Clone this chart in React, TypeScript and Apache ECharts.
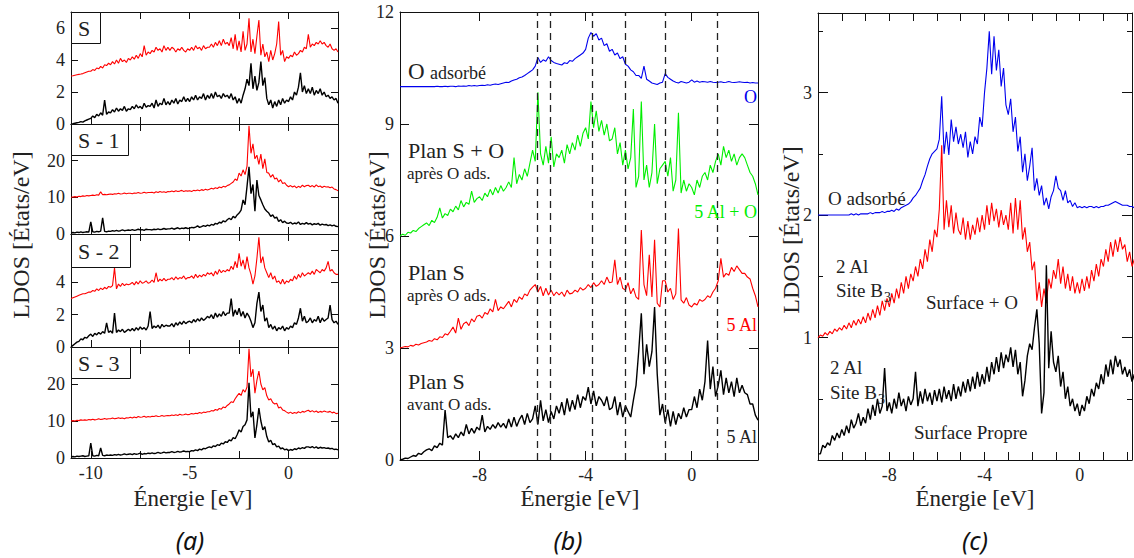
import React, { useEffect, useRef } from "react";
import * as echarts from "echarts";

// energy grid: -11 eV, step 0.1 eV
const E_MIN = -11;
const E_STEP = 0.1;

// ---------- panel (a) ----------
const aS_red = [
  3.0, 3.02, 3.05, 3.08, 3.1, 3.12, 3.15, 3.2, 3.25, 3.3,
  3.3, 3.4, 3.35, 3.5, 3.45, 3.6, 3.5, 3.7, 3.65, 3.8,
  3.7, 3.9, 3.75, 4.0, 3.8, 4.1, 3.9, 4.0, 3.85, 4.1,
  4.0, 4.2, 4.05, 4.3, 4.1, 4.4, 4.2, 4.9, 4.3, 4.5,
  4.4, 4.6, 4.5, 4.8, 4.6, 4.7, 4.5, 4.9, 4.6, 4.8,
  4.6, 4.8, 4.7, 4.5, 4.7, 4.6, 4.8, 4.6, 4.5, 4.7,
  4.6, 4.8, 4.6, 4.9, 4.7, 4.8, 4.6, 4.9, 4.7, 4.8,
  4.8, 5.0, 4.8, 5.1, 4.9, 5.2, 4.9, 5.3, 5.0, 5.1,
  4.9, 5.4, 4.7, 5.6, 4.6, 5.2, 4.5, 5.8, 4.6, 5.0,
  6.6, 4.5, 5.3, 4.4, 5.5, 6.5, 4.3, 5.0, 4.2, 4.5,
  3.9, 4.6, 4.0, 4.4, 5.0, 6.4, 4.3, 4.6, 3.9, 4.2,
  4.1, 4.3, 4.2, 4.5, 4.3, 4.4, 4.6, 4.5, 4.8, 4.7,
  5.6, 4.8, 5.0, 4.9, 5.1, 5.0, 5.2, 5.0, 5.1, 4.9,
  4.8, 5.0, 4.7, 4.6, 4.7, 4.5,
];
const aS_black = [
  0.0, 0.02, 0.05, 0.08, 0.1, 0.15, 0.12, 0.2, 0.25, 0.3,
  0.35, 0.5, 0.4, 0.6, 0.5, 0.7, 0.55, 1.5, 0.6, 0.75,
  0.7, 0.9, 0.75, 1.0, 0.8, 0.95, 0.85, 1.1, 0.8, 0.95,
  0.9, 1.1, 0.95, 1.2, 1.0, 1.1, 0.95, 1.3, 1.05, 1.15,
  1.1, 1.3, 1.0, 1.5, 1.1, 1.3, 1.2, 1.6, 1.2, 1.4,
  1.2, 1.5, 1.3, 1.6, 1.25, 1.5, 1.4, 1.7, 1.4, 1.6,
  1.4, 1.7, 1.5, 1.8, 1.5, 1.7, 1.6, 1.9, 1.5, 1.8,
  1.6, 1.9, 1.6, 2.0, 1.7, 1.8, 1.6, 1.9, 1.7, 1.8,
  1.6, 1.9, 1.5, 1.7, 1.3, 1.6, 1.3, 1.8, 2.2, 2.8,
  2.4, 3.8, 2.2, 3.0, 2.1, 2.6, 3.9, 2.4, 2.9, 1.6,
  1.2, 1.5, 1.0, 1.4, 1.1, 1.5, 1.2, 1.6, 1.3, 1.5,
  1.4, 1.7, 1.5, 2.0, 1.8, 2.3, 3.2, 2.0, 2.4, 1.9,
  2.2, 1.9, 2.3, 1.8, 2.1, 1.9, 2.2, 1.8, 2.0, 1.7,
  1.8, 1.6, 1.7, 1.5, 1.6, 1.3,
];
const aS1_red = [
  10.0, 10.1, 10.2, 10.1, 10.3, 10.2, 10.4, 10.3, 10.5, 10.4,
  10.5, 10.6, 10.5, 10.7, 10.6, 11.5, 10.7, 10.8, 10.7, 10.8,
  10.9, 10.8, 11.0, 10.9, 11.1, 10.9, 11.0, 11.2, 11.0, 11.1,
  11.1, 11.0, 11.2, 11.1, 11.3, 11.1, 11.2, 11.4, 11.2, 11.3,
  11.3, 11.4, 11.2, 11.5, 11.3, 11.6, 11.4, 11.5, 11.3, 11.6,
  11.5, 11.7, 11.5, 11.8, 11.6, 11.7, 11.9, 11.6, 11.8, 11.7,
  11.8, 11.6, 11.9, 11.8, 12.0, 11.8, 12.1, 11.9, 12.2, 12.0,
  12.2, 12.5, 12.3, 12.6, 12.4, 12.8, 12.6, 13.0, 12.8, 13.2,
  13.4, 13.8, 14.2, 15.0, 14.6, 16.6, 15.8, 17.5, 16.2, 18.5,
  29.5, 22.0, 24.6, 20.5, 21.5, 19.0, 21.8, 17.8, 20.5, 16.8,
  16.6, 15.5, 16.2, 15.0, 15.3, 14.2, 14.8, 13.8, 14.0, 13.3,
  12.9, 13.2, 12.8, 13.1, 12.6, 13.0, 12.7, 13.3, 12.9, 13.2,
  13.3, 12.9, 13.2, 12.8, 13.4, 12.9, 13.1, 12.7, 13.0, 12.8,
  12.9, 12.6, 12.8, 12.3, 12.1, 11.8,
];
const aS1_black = [
  0.3, 0.4, 0.3, 0.5, 0.4, 0.6, 0.4, 0.5, 0.6, 0.5,
  3.3, 0.6, 0.5, 0.7, 0.6, 0.8, 4.4, 0.7, 0.6, 0.8,
  0.7, 0.9, 0.8, 1.0, 0.8, 0.9, 1.1, 0.9, 1.0, 1.1,
  1.0, 1.2, 1.0, 1.1, 1.3, 1.1, 1.2, 1.0, 1.3, 1.2,
  1.2, 1.1, 1.3, 1.2, 1.4, 1.2, 1.3, 1.5, 1.3, 1.4,
  1.4, 1.6, 1.3, 1.5, 1.7, 1.4, 1.6, 1.5, 1.7, 1.5,
  1.6, 1.8, 1.7, 1.9, 2.2, 1.8, 2.0, 2.3, 2.1, 2.4,
  2.2, 2.6, 2.4, 2.9, 2.7, 3.2, 3.0, 3.6, 3.3, 3.9,
  4.3, 3.9, 4.8, 4.4, 5.2, 5.7, 6.5, 9.3, 8.0, 13.0,
  18.3, 11.0, 13.5, 6.2, 14.7, 10.5, 9.3, 8.0, 6.8, 6.2,
  5.7, 4.8, 5.2, 4.3, 4.6, 3.4, 3.9, 3.1, 3.5, 3.0,
  2.9, 3.2, 2.7, 3.0, 2.8, 3.3, 2.6, 2.9, 2.7, 3.1,
  2.7, 2.9, 2.5, 2.8, 2.6, 2.9, 2.4, 2.7, 2.5, 2.6,
  2.3, 2.5, 2.2, 2.4, 2.1, 2.0,
];
const aS2_red = [
  3.0, 3.05, 3.1, 3.15, 3.2, 3.25, 3.3, 3.3, 3.35, 3.4,
  3.4, 3.5, 3.45, 3.6, 3.5, 3.65, 3.55, 3.7, 3.6, 3.75,
  3.7, 3.8, 4.9, 3.6, 3.9, 3.75, 3.95, 3.8, 3.9, 3.85,
  3.9, 4.0, 3.85, 4.05, 3.9, 4.1, 3.95, 4.0, 4.1, 3.95,
  4.0, 4.15, 4.0, 4.6, 4.05, 4.2, 4.1, 4.25, 4.1, 4.2,
  4.2, 4.3, 4.15, 4.35, 4.2, 4.3, 4.25, 4.4, 4.2, 4.3,
  4.3, 4.4, 4.25, 4.5, 4.3, 4.45, 4.35, 4.5, 4.4, 4.6,
  4.5, 4.6, 4.4, 4.7, 4.5, 4.8, 4.6, 4.75, 4.65, 4.8,
  4.7, 5.0, 4.8, 5.3, 4.9, 5.8, 5.0, 5.4, 4.8, 5.6,
  4.9, 4.5, 3.9, 4.4, 5.5, 6.8, 5.2, 5.6, 4.9, 4.6,
  4.3, 4.6, 4.2, 4.4, 4.0, 4.1, 3.9, 4.2, 3.9, 4.1,
  4.0, 4.2, 4.1, 4.4, 4.2, 4.5, 4.3, 4.6, 4.4, 4.5,
  4.6, 4.5, 4.7, 4.5, 4.8, 4.7, 4.6, 4.8, 4.7, 4.9,
  5.3, 4.7, 4.8, 4.6, 4.5, 4.5,
];
const aS2_black = [
  0.0, 0.1, 0.2, 0.3, 0.35, 0.5, 0.45, 0.6, 0.55, 0.7,
  0.8, 0.65, 0.85, 0.75, 0.9, 0.8, 0.95, 0.85, 1.5, 0.9,
  1.0, 0.85, 2.1, 0.9, 1.05, 0.95, 1.1, 0.9, 1.0, 1.1,
  1.0, 1.15, 1.0, 1.2, 1.05, 1.25, 1.1, 1.2, 1.05, 1.3,
  2.2, 1.15, 1.3, 1.2, 1.35, 1.15, 1.4, 1.25, 1.35, 1.3,
  1.3, 1.45, 1.25, 1.5, 1.35, 1.55, 1.4, 1.6, 1.45, 1.55,
  1.6, 1.5, 1.7, 1.55, 1.75, 1.6, 1.8, 1.65, 1.75, 1.9,
  1.8, 2.0, 1.75, 2.1, 1.85, 2.05, 1.9, 2.2, 1.95, 2.1,
  2.1, 3.0, 1.9, 2.3, 2.0, 2.4, 1.9, 2.2, 1.8, 2.1,
  1.9, 1.6, 1.2, 1.5, 2.7, 3.4, 2.2, 2.6, 1.6, 1.8,
  1.2, 1.4, 1.1, 1.3, 1.0, 1.2, 1.1, 1.3, 1.0, 1.2,
  1.1, 1.3, 1.2, 1.5, 1.4, 1.8, 2.4, 1.6, 1.9, 1.5,
  1.6, 1.8, 1.5, 1.7, 1.6, 1.9, 1.5, 1.8, 1.6, 1.7,
  1.8, 2.6, 1.7, 1.5, 1.6, 1.4,
];
const aS3_red = [
  10.0, 10.1, 10.0, 10.2, 10.1, 10.3, 10.2, 10.3, 10.2, 10.4,
  10.3, 10.5, 10.3, 10.4, 10.6, 10.4, 10.5, 10.7, 10.5, 10.6,
  10.6, 10.8, 10.6, 10.7, 10.9, 10.7, 10.8, 10.6, 10.9, 10.8,
  11.0, 10.8, 11.1, 10.9, 11.2, 11.0, 11.1, 11.3, 11.0, 11.2,
  11.1, 11.3, 11.2, 11.4, 11.2, 11.3, 11.5, 11.3, 11.4, 11.5,
  11.4, 11.6, 11.5, 11.7, 11.5, 11.8, 11.6, 11.7, 11.9, 11.7,
  11.8, 12.0, 11.9, 12.1, 12.0, 12.3, 12.1, 12.4, 12.3, 12.5,
  12.5, 12.8, 12.7, 13.1, 12.9, 13.4, 13.2, 13.8, 13.6, 14.2,
  14.6, 15.2, 15.0, 16.0, 16.8, 17.5, 16.9, 18.5, 17.8, 19.2,
  29.5, 21.9, 24.0, 17.5, 21.0, 23.5, 20.0, 18.4, 19.0, 16.8,
  15.7, 16.0, 15.0, 14.6, 14.8, 13.5, 13.8, 13.0, 12.8, 12.4,
  12.1, 12.4, 12.0, 12.3, 12.1, 12.5, 12.2, 12.6, 12.4, 12.7,
  12.9, 12.5, 12.8, 12.4, 12.7, 12.3, 12.6, 12.4, 12.7, 12.5,
  12.4, 12.6, 12.2, 12.4, 12.0, 12.1,
];
const aS3_black = [
  0.3, 0.4, 0.3, 0.5, 0.4, 0.5, 0.6, 0.4, 0.5, 0.6,
  4.0, 0.6, 0.5, 0.7, 0.6, 2.7, 0.7, 0.6, 0.8, 0.7,
  0.8, 0.7, 0.9, 0.8, 1.0, 0.8, 0.9, 1.1, 0.9, 1.0,
  1.1, 0.9, 1.2, 1.0, 1.1, 1.3, 1.0, 1.2, 1.1, 1.3,
  1.2, 1.4, 1.2, 1.3, 1.5, 1.3, 1.4, 1.6, 1.4, 1.5,
  1.5, 1.7, 1.5, 1.6, 1.8, 1.6, 1.7, 1.9, 1.7, 1.8,
  1.7, 2.0, 1.9, 2.2, 2.0, 2.4, 2.2, 2.6, 2.5, 2.8,
  3.0, 2.8, 3.3, 3.1, 3.6, 3.4, 4.0, 3.8, 4.4, 4.2,
  4.9, 4.6, 5.5, 5.2, 6.3, 7.6, 7.0, 8.5, 9.0, 10.3,
  20.3, 11.0, 12.5, 5.4, 9.0, 13.5, 10.0, 7.6, 8.5, 5.8,
  4.3, 4.8, 3.6, 3.9, 3.0, 3.2, 2.5, 2.7, 2.2, 2.4,
  2.0, 2.3, 2.1, 2.5, 2.3, 2.7, 2.5, 2.8, 2.6, 3.0,
  3.0, 2.8, 3.1, 2.7, 3.0, 2.6, 2.9, 2.7, 2.8, 2.6,
  2.7, 2.5, 2.6, 2.3, 2.4, 2.2,
];

// ---------- panel (b) ----------
const bO_blue = [
  10.0, 10.0, 10.0, 10.0, 10.0, 10.0, 10.0, 10.0, 10.0, 10.0,
  10.0, 10.0, 10.0, 10.0, 10.01, 10.0, 10.0, 10.01, 10.0, 10.01,
  10.01, 10.0, 10.02, 10.01, 10.02, 10.01, 10.03, 10.02, 10.03, 10.02,
  10.03, 10.04, 10.03, 10.05, 10.04, 10.06, 10.07, 10.06, 10.08, 10.1,
  10.12, 10.11, 10.15, 10.18, 10.2, 10.24, 10.26, 10.3, 10.35, 10.4,
  10.45, 10.55, 10.78, 10.65, 10.72, 10.68, 10.8, 10.7, 10.65, 10.62,
  10.6, 10.58, 10.64, 10.62, 10.7, 10.68, 10.75, 10.8, 10.85, 10.9,
  11.0, 11.3, 11.45, 11.35, 11.42, 11.25, 11.3, 11.1, 11.15, 10.95,
  11.0, 10.85, 10.9, 10.75, 10.8, 10.6, 10.55, 10.45, 10.4, 10.3,
  10.3, 10.22, 10.55, 10.2, 10.15, 10.1, 10.08, 10.06, 10.1, 10.12,
  10.35, 10.25, 10.2, 10.15, 10.12, 10.1, 10.14, 10.12, 10.1, 10.12,
  10.18, 10.12, 10.15, 10.12, 10.14, 10.13, 10.12, 10.14, 10.12, 10.11,
  10.12, 10.13, 10.11, 10.12, 10.14, 10.12, 10.11, 10.12, 10.13, 10.12,
  10.11, 10.12, 10.1, 10.11, 10.1, 10.1,
];
const bSO_green = [
  6.0, 6.05, 6.02, 6.1, 6.08, 6.15, 6.12, 6.2, 6.25, 6.3,
  6.35, 6.28, 6.42, 6.36, 6.5, 6.75, 6.48, 6.6, 6.55, 6.72,
  6.65, 6.8, 6.7, 6.95, 6.78, 6.9, 6.85, 7.2, 6.9, 7.0,
  7.05, 6.95, 7.15, 7.05, 7.25, 7.1, 7.3, 7.15, 7.35, 7.2,
  7.3, 7.45, 7.3, 8.1, 7.4, 7.65, 7.5, 7.8, 7.6, 7.95,
  8.3, 8.0, 9.85, 8.2, 7.9, 8.4, 7.95, 8.66, 7.85, 8.2,
  8.1, 8.3, 7.95, 8.45, 8.2, 8.5, 8.3, 8.7, 8.4, 8.75,
  8.9, 8.6, 9.6, 8.9, 9.35, 8.8, 9.1, 8.7, 9.0, 8.55,
  8.6, 8.9, 8.2, 8.5, 7.9, 8.3, 7.8, 8.1, 9.4, 7.3,
  7.6, 9.6, 7.5, 7.9, 7.3, 7.7, 9.0, 7.4, 7.8, 7.9,
  8.0, 7.6, 8.1, 7.2, 7.5, 9.3, 7.15, 7.5, 7.2, 7.4,
  7.3, 7.1, 7.5, 7.3, 7.6, 7.7, 7.5, 7.9, 7.7, 8.0,
  8.2, 7.9, 8.4, 8.1, 8.3, 8.0, 8.2, 7.9, 8.1, 8.2,
  8.1, 7.9, 7.7, 7.6, 7.4, 7.1,
];
const bS_red = [
  3.0, 3.02, 3.04, 3.03, 3.07, 3.05, 3.1, 3.08, 3.12, 3.14,
  3.16, 3.2, 3.18, 3.25, 3.22, 3.3, 3.28, 3.38, 3.35, 3.45,
  3.56, 3.4, 3.8, 3.5, 3.65, 3.7, 3.6, 3.78, 3.7, 3.85,
  3.88, 3.8, 3.95, 3.9, 4.05, 3.97, 4.3, 4.0, 4.1, 4.05,
  4.15, 4.25, 4.1, 4.3, 4.22, 4.37, 4.3, 4.45, 4.4, 4.55,
  4.63, 4.7, 4.5, 4.65, 4.4, 4.6, 4.42, 4.55, 4.4, 4.5,
  4.42, 4.5, 4.38, 4.55, 4.45, 4.47, 4.55, 4.5, 4.62, 4.55,
  4.6, 4.7, 4.62, 4.75, 4.65, 4.7, 4.8, 4.7, 4.9, 4.75,
  4.77, 5.36, 4.7, 4.9, 4.6, 4.55, 4.75, 4.45, 4.6, 4.37,
  4.3, 6.16, 4.7, 4.4, 5.5, 4.37, 5.9, 4.2, 4.1, 4.8,
  4.8, 4.5, 4.6, 4.3, 4.45, 6.2, 4.29, 4.2, 4.35, 4.15,
  4.1, 4.2, 4.15, 4.3, 4.25, 4.3, 4.4, 4.35, 4.5, 4.6,
  4.8, 5.4, 4.9, 5.0, 4.95, 5.16, 5.05, 5.2, 5.1, 5.0,
  5.0, 4.9, 4.85, 4.6, 4.4, 4.1,
];
const bS_black = [
  0.0, 0.02, 0.05, 0.04, 0.08, 0.12, 0.1, 0.18, 0.15, 0.22,
  0.27, 0.3, 0.25, 0.38, 0.33, 0.45, 0.4, 1.34, 0.6, 0.65,
  0.55, 0.7, 0.6, 0.75, 0.65, 0.95, 0.7, 0.85, 0.72, 0.88,
  0.8, 1.2, 0.75, 0.9, 0.82, 0.95, 0.85, 1.0, 0.88, 0.98,
  0.85, 1.1, 0.88, 1.15, 0.9, 1.08, 1.2, 0.95, 1.25, 1.0,
  1.1, 1.45, 0.95, 1.6, 1.05, 1.35, 1.0, 1.3, 1.1, 1.45,
  1.25, 1.55, 1.2, 1.65, 1.3, 1.6, 1.35, 1.75, 1.4, 1.7,
  1.6, 1.95, 1.5, 1.85, 1.45, 1.7, 1.6, 1.45, 1.7, 1.35,
  1.4, 1.7, 1.2, 1.55, 1.15, 1.45, 1.3, 1.15, 1.6, 2.0,
  2.9, 3.93, 2.3, 3.1, 2.5, 2.9, 4.1, 2.3, 1.2, 1.5,
  1.0, 1.35, 0.9, 1.3, 0.95, 1.25, 1.1, 1.4, 1.15, 1.35,
  1.35, 1.7, 1.4, 1.9, 1.6, 2.1, 3.2, 1.9, 2.5, 1.7,
  2.0, 2.4, 1.75, 2.2, 1.8, 2.1, 1.7, 2.2, 1.8, 2.0,
  1.8, 1.75, 1.5, 1.5, 1.2, 1.07,
];
const bDashedE = [-5.83, -5.34, -3.76, -2.52, -0.98, 0.98];

// ---------- panel (c) ----------
const cO_blue = [
  2.0, 2.0, 2.0, 2.0, 2.0, 2.0, 2.0, 2.0, 2.0, 2.0,
  2.0, 2.0, 2.0, 2.0, 2.01, 2.0, 2.01, 2.0, 2.01, 2.01,
  2.01, 2.01, 2.02, 2.01, 2.02, 2.02, 2.02, 2.03, 2.02, 2.03,
  2.03, 2.04, 2.03, 2.05, 2.04, 2.06, 2.07, 2.08, 2.09, 2.11,
  2.14, 2.16, 2.19, 2.22, 2.28, 2.33, 2.4, 2.46, 2.5, 2.52,
  2.54, 2.62, 2.97, 2.5, 2.68, 2.49, 2.78, 2.6, 2.72, 2.58,
  2.66, 2.55, 2.68, 2.47, 2.6, 2.5, 2.64, 2.58, 2.8, 2.72,
  3.0, 3.2, 3.5, 3.15, 3.46, 3.18, 3.35, 3.05, 3.2, 2.9,
  2.82, 2.95, 2.68, 2.8, 2.52, 2.64, 2.35, 2.5, 2.28, 2.4,
  2.55, 2.2, 2.3, 2.16, 2.24, 2.08, 2.14, 2.05, 2.15, 2.2,
  2.32, 2.22, 2.2, 2.12, 2.2, 2.1, 2.12, 2.07, 2.1, 2.06,
  2.07, 2.06, 2.07, 2.06, 2.07, 2.07, 2.06, 2.07, 2.06, 2.07,
  2.07, 2.08, 2.08, 2.09, 2.1, 2.11, 2.1, 2.09, 2.08, 2.08,
  2.08, 2.07, 2.07, 2.06, 2.06, 2.06,
];
const cSO_red = [
  1.0, 1.02, 1.01, 1.04, 1.02, 1.05, 1.03, 1.07, 1.05, 1.08,
  1.06, 1.1, 1.07, 1.12, 1.08, 1.14, 1.1, 1.15, 1.11, 1.17,
  1.12, 1.2, 1.14, 1.23, 1.16, 1.26, 1.18, 1.3, 1.22, 1.32,
  1.25, 1.36, 1.28, 1.4, 1.32, 1.45, 1.36, 1.5, 1.4, 1.52,
  1.46, 1.58, 1.5, 1.64, 1.56, 1.72, 1.62, 1.8, 1.7, 1.88,
  1.82, 2.05, 2.57, 1.88, 2.12, 1.9, 2.08, 1.85, 2.02, 1.88,
  1.84, 1.98, 1.8, 1.95, 1.8, 1.92, 1.84, 1.98, 1.86, 2.0,
  1.88, 2.08, 1.92, 2.1, 1.95, 2.05, 1.9, 2.04, 1.92, 2.0,
  1.88, 2.1, 1.85, 2.14, 1.88, 2.12, 1.8, 1.9, 1.7, 1.78,
  1.55, 1.62, 1.3, 1.45, 1.25, 1.4, 1.28, 1.48, 1.4, 1.55,
  1.48, 1.64, 1.44, 1.58, 1.4, 1.52, 1.38, 1.5, 1.36, 1.45,
  1.36, 1.48, 1.38, 1.5, 1.4, 1.55, 1.46, 1.6, 1.5, 1.64,
  1.58, 1.72, 1.62, 1.78, 1.66, 1.8, 1.7, 1.82, 1.72, 1.76,
  1.62, 1.7, 1.58, 1.64, 1.55, 1.58,
];
const cClean_black = [
  0.05, 0.05, 0.12, 0.1, 0.14, 0.12, 0.2, 0.16, 0.22, 0.18,
  0.25, 0.2, 0.28, 0.22, 0.33, 0.26, 0.3, 0.38, 0.28, 0.35,
  0.3, 0.42, 0.33, 0.45, 0.36, 0.5, 0.38, 0.44, 0.75, 0.4,
  0.47, 0.38, 0.5, 0.42, 0.55, 0.44, 0.5, 0.4, 0.52, 0.45,
  0.5, 0.72, 0.44, 0.56, 0.46, 0.58, 0.48, 0.55, 0.45, 0.57,
  0.48, 0.58, 0.47, 0.6, 0.5, 0.57, 0.48, 0.62, 0.5, 0.6,
  0.52, 0.64, 0.55, 0.66, 0.56, 0.68, 0.58, 0.72, 0.6, 0.7,
  0.62, 0.76, 0.64, 0.8, 0.7, 0.84, 0.72, 0.88, 0.75, 0.86,
  0.8, 0.92, 0.76, 0.9, 0.7, 0.8, 0.52, 0.65, 0.85, 0.95,
  0.9, 1.08, 1.23, 0.95, 0.38, 0.55, 1.59, 0.75, 1.05, 0.8,
  0.72, 0.85, 0.6, 0.72, 0.5, 0.6, 0.44, 0.5, 0.4, 0.46,
  0.36, 0.45, 0.4, 0.52, 0.46, 0.58, 0.52, 0.63, 0.58, 0.7,
  0.62, 0.78, 0.68, 0.82, 0.7, 0.85, 0.76, 0.82, 0.7, 0.76,
  0.68, 0.74, 0.64, 0.7, 0.62, 0.66,
];

const SERIF = "'Liberation Serif', 'DejaVu Serif', serif";
const INK = "#222";

const energies = aS_red.map((_, i) => Math.round((E_MIN + i * E_STEP) * 100) / 100);
const pts = (ys: number[]) => ys.map((y, i) => [energies[i], y]);

type G = { left: number; top: number; width: number; height: number };
const grids: G[] = [
  { left: 71, top: 12, width: 267, height: 112 },
  { left: 71, top: 124, width: 267, height: 110 },
  { left: 71, top: 234, width: 267, height: 113 },
  { left: 71, top: 347, width: 267, height: 111 },
  { left: 400, top: 12, width: 358, height: 448 },
  { left: 818, top: 13, width: 314, height: 447 },
];

function axis(gi: number, pos: string, min: number, max: number, ticks: number[], labels: number[] | null, tickLen = 7, showLine = true) {
  return {
    type: "value",
    gridIndex: gi,
    position: pos,
    min,
    max,
    axisLine: { show: showLine, onZero: false, lineStyle: { color: "#111", width: 1 } },
    axisTick: { show: true, inside: true, length: tickLen, customValues: ticks, lineStyle: { color: "#111", width: 1 } },
    axisLabel: labels
      ? { show: true, customValues: labels, fontFamily: SERIF, fontSize: 18, color: INK, margin: 6 }
      : { show: false },
    splitLine: { show: false },
  };
}

export default function App() {
  const ref = useRef<HTMLDivElement>(null);
  useEffect(() => {
    if (!ref.current) return;
    const chart = echarts.init(ref.current, null, { renderer: "svg" });

    const xAxes: any[] = [];
    const yAxes: any[] = [];
    const series: any[] = [];

    // panel (a)
    const aTicks = [-10, -7.5, -5, -2.5, 0];
    const aData = [
      { red: aS_red, black: aS_black, max: 7, yl: [0, 2, 4, 6], yt: [2, 4, 6] },
      { red: aS1_red, black: aS1_black, max: 30, yl: [0, 10, 20], yt: [10, 20] },
      { red: aS2_red, black: aS2_black, max: 7, yl: [0, 2, 4], yt: [2, 4, 6] },
      { red: aS3_red, black: aS3_black, max: 30, yl: [0, 10, 20], yt: [10, 20] },
    ];
    aData.forEach((p, gi) => {
      const xi = xAxes.length;
      xAxes.push(axis(gi, "bottom", -11, 2.5, aTicks, gi === 3 ? [-10, -5, 0] : null));
      xAxes.push(axis(gi, "top", -11, 2.5, aTicks, null));
      const yi = yAxes.length;
      yAxes.push(axis(gi, "left", 0, p.max, p.yt, p.yl));
      yAxes.push(axis(gi, "right", 0, p.max, p.yt, null));
      series.push({ type: "line", xAxisIndex: xi, yAxisIndex: yi, data: pts(p.red), symbol: "none", lineStyle: { color: "#ff0000", width: 1.1 }, silent: true });
      series.push({ type: "line", xAxisIndex: xi, yAxisIndex: yi, data: pts(p.black), symbol: "none", lineStyle: { color: "#000", width: 1.4 }, silent: true });
    });

    // panel (b)
    {
      const gi = 4;
      const xi = xAxes.length;
      xAxes.push(axis(gi, "bottom", -11, 2.5, [-8, -4, 0], [-8, -4, 0], 9));
      xAxes.push(axis(gi, "top", -11, 2.5, [-8, -4, 0], null, 9));
      const yi = yAxes.length;
      yAxes.push(axis(gi, "left", 0, 12, [3, 6, 9], [0, 3, 6, 9, 12], 9));
      yAxes.push(axis(gi, "right", 0, 12, [3, 6, 9], null, 9));
      const mk = (d: number[], c: string, w = 1.1) => ({ type: "line", xAxisIndex: xi, yAxisIndex: yi, data: pts(d), symbol: "none", lineStyle: { color: c, width: w }, silent: true });
      series.push(mk(bO_blue, "#0000ee"));
      series.push(mk(bSO_green, "#00ee00"));
      series.push(mk(bS_red, "#ff0000"));
      series.push({
        ...mk(bS_black, "#000", 1.4),
        markLine: {
          silent: true,
          symbol: ["none", "none"],
          label: { show: false },
          lineStyle: { color: "#222", type: [7, 5], width: 1.3 },
          data: bDashedE.map((v) => ({ xAxis: v })),
        },
      });
    }

    // panel (c)
    {
      const gi = 5;
      const xt = [-10, -9, -8, -7, -6, -5, -4, -3, -2, -1, 0, 1, 2];
      const xi = xAxes.length;
      xAxes.push(axis(gi, "bottom", -11, 2.2, xt, [-8, -4, 0], 8));
      xAxes.push(axis(gi, "top", -11, 2.2, xt, null, 8));
      const yi = yAxes.length;
      yAxes.push(axis(gi, "left", 0, 3.65, [1, 2, 3], [1, 2, 3], 10));
      yAxes.push(axis(gi, "left", 0, 3.65, [0.5, 1.5, 2.5, 3.5], null, 5, false));
      yAxes.push(axis(gi, "right", 0, 3.65, [1, 2, 3], null, 10));
      yAxes.push(axis(gi, "right", 0, 3.65, [0.5, 1.5, 2.5, 3.5], null, 5, false));
      const mk = (d: number[], c: string, w = 1.1) => ({ type: "line", xAxisIndex: xi, yAxisIndex: yi, data: pts(d), symbol: "none", lineStyle: { color: c, width: w }, silent: true });
      series.push(mk(cO_blue, "#0000ee"));
      series.push(mk(cSO_red, "#ff0000"));
      series.push(mk(cClean_black, "#000", 1.4));
    }

    const txt = (text: string, x: number, y: number, size: number, opts: any = {}) => ({
      type: "text",
      x,
      y,
      z: 100,
      rotation: opts.rotation || 0,
      style: {
        text,
        x: 0,
        y: 0,
        fill: opts.color || INK,
        font: `${opts.style || "normal"} ${size}px ${opts.family || SERIF}`,
        textAlign: opts.align || "left",
        textVerticalAlign: "middle",
      },
    });
    const box = (x: number, y: number, w: number, h: number) => ({
      type: "rect",
      z: 99,
      shape: { x: x + 0.5, y: y + 0.5, width: w, height: h },
      style: { fill: "#fff", stroke: "#111", lineWidth: 1 },
    });
    const CAP = { align: "center", style: "italic", family: "'Noto Sans', sans-serif", color: "#111" };

    const graphic: any[] = [
      // panel (a)
      box(71, 12, 29, 31), txt("S", 78, 28, 22),
      box(71, 124, 57, 31), txt("S - 1", 78, 140, 22),
      box(71, 234, 59, 33), txt("S - 2", 78, 251, 22),
      box(71, 347, 59, 31), txt("S - 3", 78, 363, 22),
      txt("LDOS [États/eV]", 21, 235, 24, { align: "center", rotation: Math.PI / 2 }),
      txt("Énergie [eV]", 193, 498, 23, { align: "center" }),
      txt("(a)", 190, 540, 25, CAP),
      // panel (b)
      txt("O", 408, 71, 23),
      txt("adsorbé", 430, 73, 18),
      txt("O", 744, 97, 18, { color: "#0000ee" }),
      txt("Plan S + O", 408, 150, 22),
      txt("après O ads.", 407, 173, 17),
      txt("5 Al + O", 757, 212, 18, { color: "#00ee00", align: "right" }),
      txt("Plan S", 408, 272, 22),
      txt("après O ads.", 407, 295, 17),
      txt("5 Al", 757, 325, 18, { color: "#ff0000", align: "right" }),
      txt("Plan S", 408, 381, 22),
      txt("avant O ads.", 407, 404, 17),
      txt("5 Al", 757, 437, 18, { align: "right" }),
      txt("LDOS [États/eV]", 377, 235, 24, { align: "center", rotation: Math.PI / 2 }),
      txt("Énergie [eV]", 580, 498, 23, { align: "center" }),
      txt("(b)", 568, 540, 25, CAP),
      // panel (c)
      txt("O adsorbé", 828, 198, 19),
      txt("2 Al", 836, 266, 19),
      txt("Site B", 836, 290, 19),
      txt("3", 884, 297, 14),
      txt("Surface + O", 926, 302, 19),
      txt("2 Al", 830, 367, 19),
      txt("Site B", 830, 392, 19),
      txt("3", 878, 399, 14),
      txt("Surface Propre", 914, 432, 19),
      txt("LDOS [États/eV]", 791, 230, 24, { align: "center", rotation: Math.PI / 2 }),
      txt("Énergie [eV]", 975, 498, 23, { align: "center" }),
      txt("(c)", 975, 540, 25, CAP),
    ];

    chart.setOption({
      animation: false,
      backgroundColor: "#fff",
      grid: grids.map((g) => ({ ...g, containLabel: false })),
      xAxis: xAxes,
      yAxis: yAxes,
      series,
      graphic,
    });
    return () => chart.dispose();
  }, []);
  return <div ref={ref} style={{ position: "fixed", left: 0, top: 0, width: 1134, height: 558 }} />;
}
